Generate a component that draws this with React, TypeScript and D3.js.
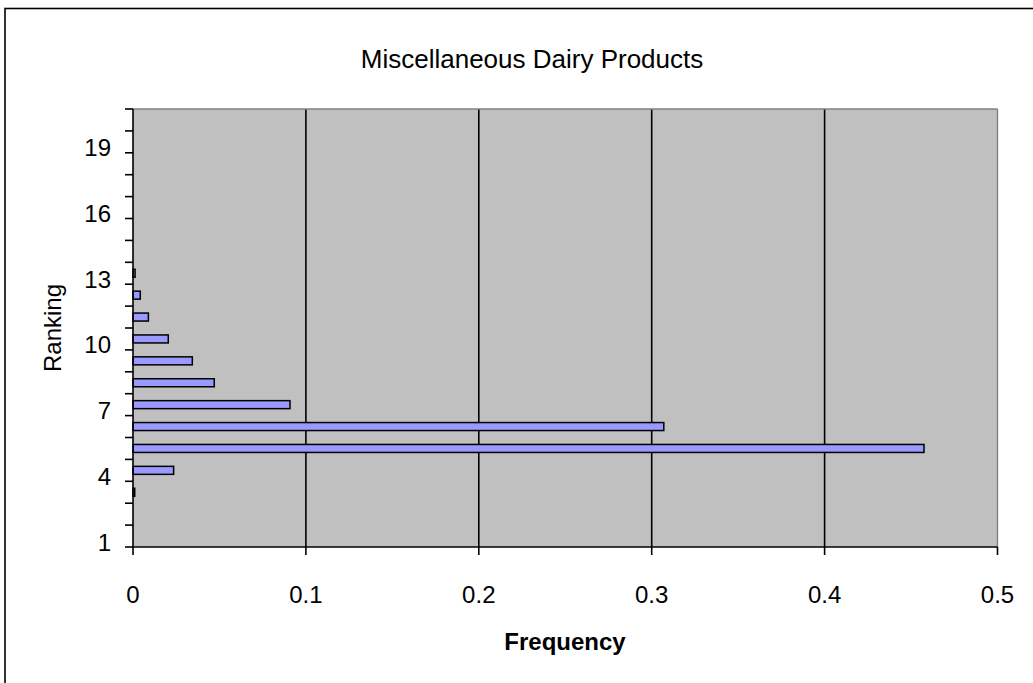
import React from "react";
import * as d3 from "d3";

const rankings: number[] = Array.from({ length: 20 }, (_, i) => i + 1);
const frequencies: number[] = [
  0, 0, 0.001, 0.0235, 0.4575, 0.307, 0.0908, 0.047, 0.0343, 0.0204,
  0.0089, 0.0042, 0.0012, 0, 0, 0, 0, 0, 0, 0,
];
const yTickLabels: number[] = [1, 4, 7, 10, 13, 16, 19];
const xTicks: number[] = [0, 0.1, 0.2, 0.3, 0.4, 0.5];
const title = "Miscellaneous Dairy Products";
const xTitle = "Frequency";
const yTitle = "Ranking";

const W = 1033;
const H = 683;
const M = { left: 133, right: 997.5, top: 109, bottom: 547 };
const FONT = "'Liberation Sans', Arial, sans-serif";

export default function App() {
  const x = d3.scaleLinear().domain([0, 0.5]).range([M.left, M.right]);
  const y = d3
    .scaleBand<number>()
    .domain(rankings)
    .range([M.bottom, M.top])
    .paddingInner(0)
    .paddingOuter(0);
  const bw = y.bandwidth();
  const barH = 8;
  const boundaries = rankings.map((r) => (y(r) as number) + bw).concat([M.top]);

  return (
    <div style={{ position: "absolute", left: 0, top: 0 }}>
      <svg width={W} height={H} style={{ display: "block", background: "#fff" }}>
        <rect x={5} y={8.5} width={1040} height={700} fill="#fff" stroke="#000" strokeWidth={1.6} />
        <text x={532} y={68} textAnchor="middle" fontFamily={FONT} fontSize={26} fill="#000">
          {title}
        </text>
        <rect x={M.left} y={M.top} width={M.right - M.left} height={M.bottom - M.top} fill="#C0C0C0" />
        {xTicks.slice(1, -1).map((t) => (
          <line key={"g" + t} x1={x(t)} x2={x(t)} y1={M.top} y2={M.bottom} stroke="#000" strokeWidth={1.6} />
        ))}
        <line x1={M.left} x2={M.right} y1={M.top} y2={M.top} stroke="#808080" strokeWidth={1.4} />
        <line x1={M.right} x2={M.right} y1={M.top} y2={M.bottom} stroke="#808080" strokeWidth={1.4} />
        {rankings.map((r, i) => {
          const v = frequencies[i];
          if (v <= 0) return null;
          const cy = (y(r) as number) + bw / 2;
          return (
            <rect
              key={"b" + r}
              x={x(0)}
              y={cy - barH / 2}
              width={Math.max(x(v) - x(0), 0.5)}
              height={barH}
              fill="#9999FF"
              stroke="#000"
              strokeWidth={1.5}
            />
          );
        })}
        <line x1={M.left} x2={M.left} y1={M.top} y2={M.bottom} stroke="#000" strokeWidth={1.6} />
        <line x1={M.left} x2={M.right} y1={M.bottom} y2={M.bottom} stroke="#000" strokeWidth={1.6} />
        {boundaries.map((b, i) => (
          <line key={"yt" + i} x1={M.left - 8} x2={M.left} y1={b} y2={b} stroke="#000" strokeWidth={1.6} />
        ))}
        {xTicks.map((t) => (
          <line key={"xt" + t} x1={x(t)} x2={x(t)} y1={M.bottom} y2={M.bottom + 8} stroke="#000" strokeWidth={1.6} />
        ))}
        {yTickLabels.map((r) => (
          <text
            key={"yl" + r}
            x={111}
            y={(y(r) as number) + bw + 3.5}
            textAnchor="end"
            fontFamily={FONT}
            fontSize={24}
            fill="#000"
          >
            {r}
          </text>
        ))}
        {xTicks.map((t) => (
          <text
            key={"xl" + t}
            x={x(t)}
            y={603}
            textAnchor="middle"
            fontFamily={FONT}
            fontSize={24}
            fill="#000"
          >
            {d3.format("~g")(t)}
          </text>
        ))}
        <text x={565} y={650} textAnchor="middle" fontFamily={FONT} fontSize={24} fontWeight="bold" fill="#000">
          {xTitle}
        </text>
        <text
          transform={`translate(61,328) rotate(-90)`}
          textAnchor="middle"
          fontFamily={FONT}
          fontSize={24}
          fill="#000"
        >
          {yTitle}
        </text>
      </svg>
    </div>
  );
}
